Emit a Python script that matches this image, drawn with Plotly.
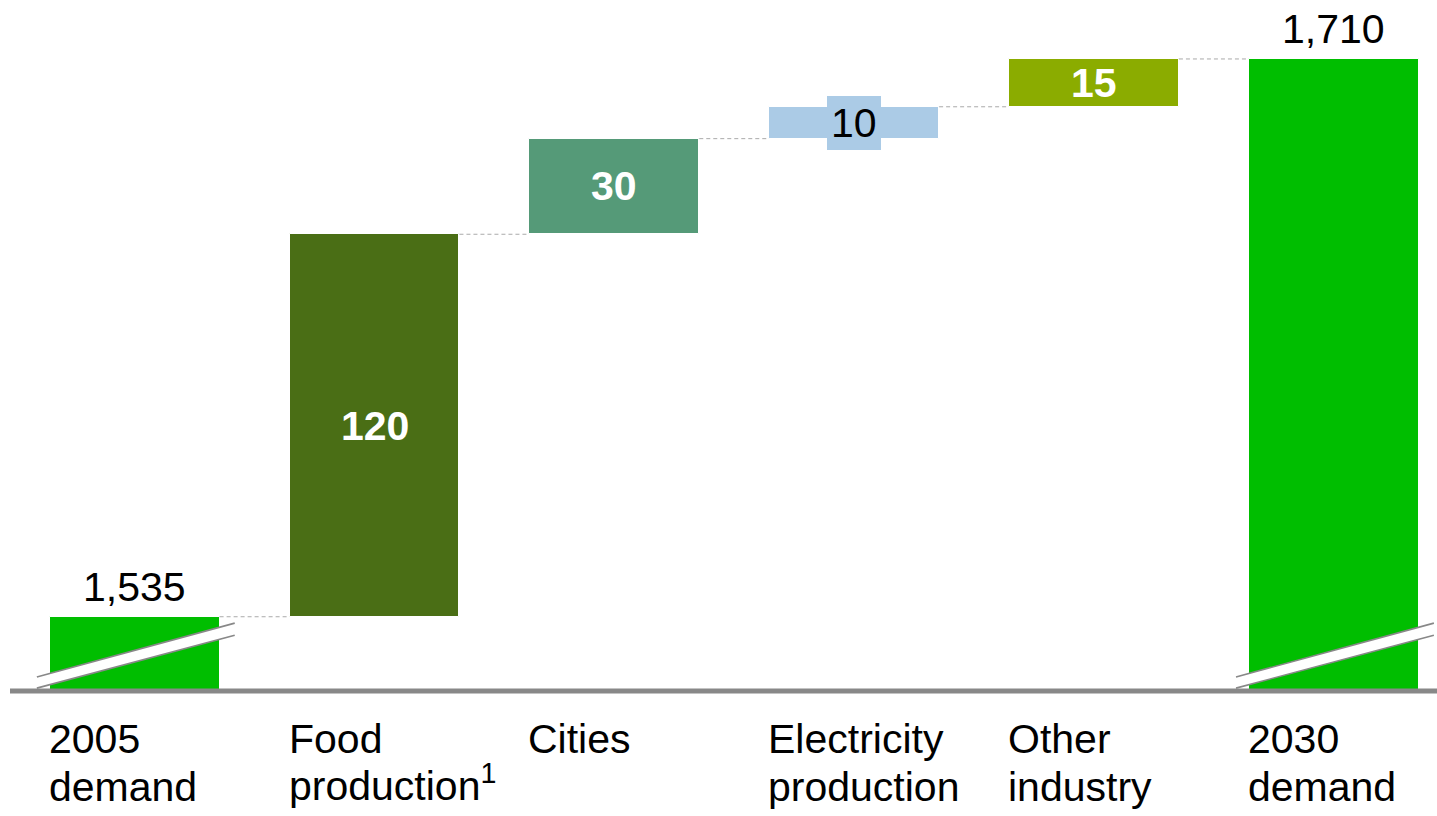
import plotly.graph_objects as go

# --- data -------------------------------------------------------------
categories = ["2005 demand", "Food production", "Cities",
              "Electricity production", "Other industry", "2030 demand"]
label_lines = [("2005", "demand"), ("Food", "production<sup>1</sup>"),
               ("Cities", ""), ("Electricity", "production"),
               ("Other", "industry"), ("2030", "demand")]
values = [1535, 120, 30, 10, 15, 1710]
measures = ["total", "relative", "relative", "relative", "relative", "total"]

# --- style ------------------------------------------------------------
colors = ["#00BE00", "#4A6E15", "#559A78", "#ABCBE6", "#8BAC00", "#00BE00"]
label_style = ["outside", "inside_bold", "inside_bold", "boxed", "inside_bold", "outside"]
FONT = "Liberation Sans, Arial, sans-serif"
FS = 41
BAR_W = 0.708
Y_FLOOR = 1511.7           # value sitting on the (broken) category axis
Y_TOP = 1728.5
X_RANGE = [-0.52, 5.43]
SUP_LIFT = 4.5             # a superscript makes the label box taller; compensate

# running totals -> bar bases / tops
bases, tops = [], []
running = 0
for v, m in zip(values, measures):
    if m == "total":
        running = v
        bases.append(0)
        tops.append(v)
    else:
        bases.append(running)
        running += v
        tops.append(running)
heights = [t - b for t, b in zip(tops, bases)]
xs = list(range(len(categories)))

fig = go.Figure(go.Bar(
    x=xs, y=heights, base=bases, width=BAR_W,
    marker=dict(color=colors, line=dict(color="white", width=1)),
    hoverinfo="skip", showlegend=False,
))

shapes = []
annotations = []

# dashed connectors between consecutive bars
for i in range(len(xs) - 1):
    shapes.append(dict(type="line", xref="x", yref="y",
                       x0=xs[i] + BAR_W / 2, x1=xs[i + 1] - BAR_W / 2,
                       y0=tops[i], y1=tops[i],
                       line=dict(color="#AAAAAA", width=1, dash="4px,3px")))

# axis-break marks on the two total bars
for i, m in enumerate(measures):
    if m != "total":
        continue
    xl = xs[i] - BAR_W / 2 - 0.054
    xr = xs[i] + BAR_W / 2 + 0.063
    lo0, lo1 = Y_FLOOR + 0.9, Y_FLOOR + 17.5
    hi0, hi1 = Y_FLOOR + 4.4, Y_FLOOR + 21.3
    shapes.append(dict(type="path", xref="x", yref="y",
                       path=f"M {xl},{lo0} L {xr},{lo1} L {xr},{hi1} L {xl},{hi0} Z",
                       fillcolor="white", line=dict(width=0)))
    for a, b in ((lo0, lo1), (hi0, hi1)):
        shapes.append(dict(type="line", xref="x", yref="y",
                           x0=xl, x1=xr, y0=a, y1=b,
                           line=dict(color="#888888", width=1.6)))

# baseline
shapes.append(dict(type="line", xref="paper", yref="paper", x0=0, x1=1, y0=0, y1=0,
                   line=dict(color="#888888", width=5)))

# value labels
for i, (v, st) in enumerate(zip(values, label_style)):
    txt = f"{v:,}"
    if st == "outside":
        annotations.append(dict(x=xs[i], y=tops[i], xref="x", yref="y", text=txt,
                                showarrow=False, yanchor="middle", yshift=30,
                                font=dict(family=FONT, size=FS, color="black")))
    elif st == "inside_bold":
        annotations.append(dict(x=xs[i], y=(bases[i] + tops[i]) / 2, xref="x", yref="y",
                                text=f"<b>{txt}</b>", showarrow=False, yanchor="middle",
                                font=dict(family=FONT, size=FS, color="white")))
    else:
        annotations.append(dict(x=xs[i], y=(bases[i] + tops[i]) / 2, xref="x", yref="y",
                                text=txt, showarrow=False, yanchor="middle",
                                bgcolor=colors[i], borderpad=4, borderwidth=0,
                                font=dict(family=FONT, size=FS, color="black")))

# category labels, left-aligned with each bar
for i, (l1, l2) in enumerate(label_lines):
    for line, shift in ((l1, -47.5), (l2, -96.0)):
        if not line:
            continue
        if "<sup>" in line:
            shift += SUP_LIFT
        annotations.append(dict(x=xs[i] - BAR_W / 2, y=0, xref="x", yref="paper",
                                text=line, showarrow=False, xanchor="left",
                                yanchor="middle", yshift=shift, xshift=-3,
                                font=dict(family=FONT, size=FS, color="black")))

fig.update_layout(
    width=1437, height=816,
    margin=dict(l=10, r=0, t=0, b=125),
    paper_bgcolor="white", plot_bgcolor="white",
    xaxis=dict(range=X_RANGE, visible=False, fixedrange=True),
    yaxis=dict(range=[Y_FLOOR, Y_TOP], visible=False, fixedrange=True),
    shapes=shapes, annotations=annotations,
    bargap=0,
)

fig.write_html("out.html")
